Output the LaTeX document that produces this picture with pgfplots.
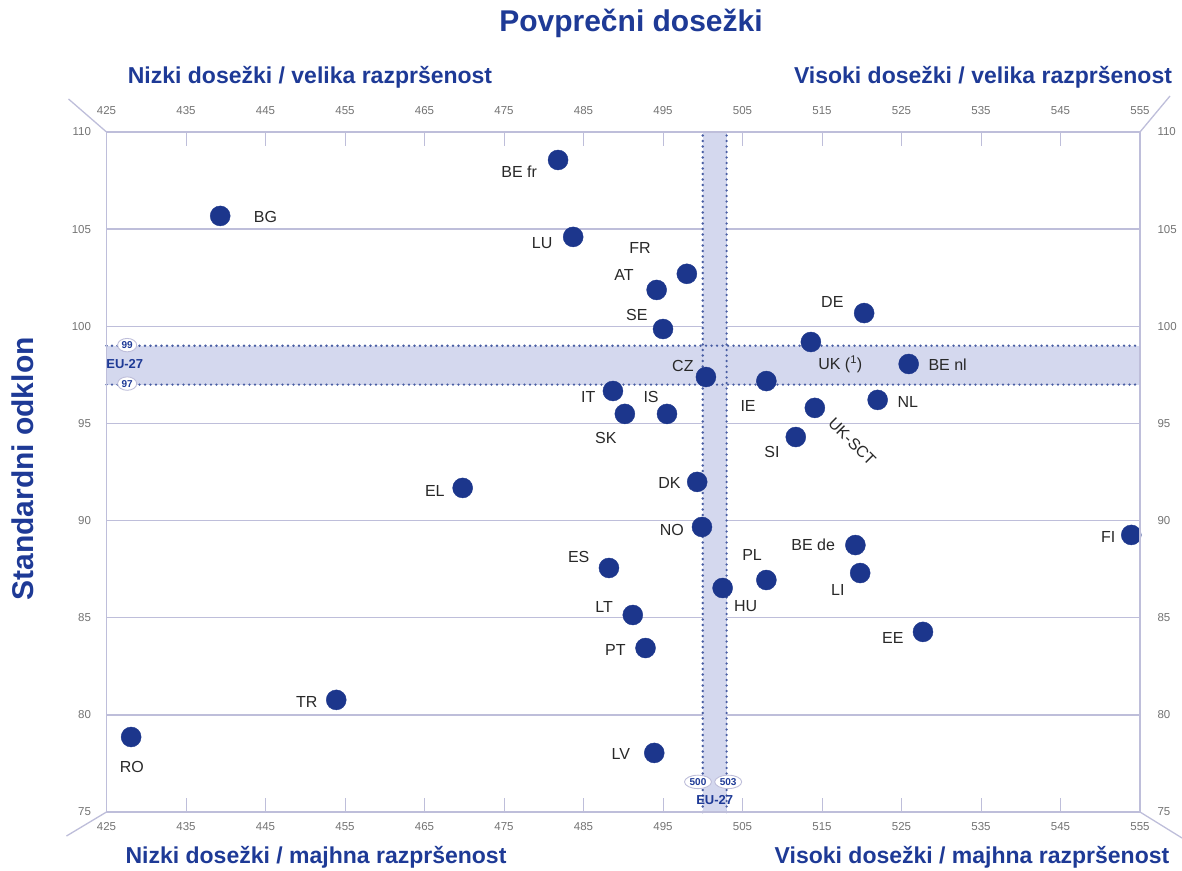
\documentclass[border=0pt]{standalone}
\usepackage{fontspec}
\setmainfont{Liberation Sans}
\usepackage{pgfplots}
\pgfplotsset{compat=1.18}
\usetikzlibrary{shapes.geometric}

\definecolor{titleblue}{RGB}{30,58,150}
\definecolor{dotblue}{RGB}{28,54,140}
\definecolor{bandfill}{RGB}{212,216,238}
\definecolor{axisgray}{RGB}{190,190,218}
\definecolor{labelgray}{RGB}{40,40,40}
\definecolor{tickgray}{RGB}{115,115,115}

\pgfplotsset{
  base/.style={
    width=1033.5pt, height=680pt, scale only axis,
    at={(106.5pt,58pt)}, anchor=south west,
    xmin=425, xmax=555, ymin=75, ymax=110,
    xtick={425,435,...,555}, ytick={75,80,...,110},
    axis line style={axisgray, line width=1.3pt},
    tick style={axisgray, line width=1pt},
    major tick length=14pt, tick align=inside,
    ytick style={draw=none},
    ticklabel style={font=\fontsize{11.5}{13}\selectfont, text=tickgray},
    /pgf/number format/assume math mode=true,
    /pgf/number format/1000 sep={},
  },
}
\tikzset{
  lbl/.style={font=\fontsize{16}{18}\selectfont, text=labelgray},
  oval/.style={ellipse, draw=axisgray, fill=white, inner sep=1.2pt, line width=0.9pt,
    font=\bfseries\fontsize{10}{11}\selectfont, text=titleblue},
  corner/.style={font=\bfseries\fontsize{23}{26}\selectfont, text=titleblue},
}

\pgfplotstableread{
x     y
481.8 108.56
439.3 105.68
483.7 104.60
498.0 102.70
494.2 101.87
495.0 99.86
520.3 100.68
513.6 99.19
525.9 98.06
500.4 97.39
508.0 97.18
488.7 96.67
522.0 96.21
495.5 95.49
490.2 95.49
514.1 95.80
511.7 94.30
469.8 91.68
499.3 91.99
499.9 89.67
553.9 89.26
519.2 88.74
519.8 87.30
488.2 87.56
508.0 86.94
502.5 86.53
491.2 85.14
527.7 84.27
492.8 83.44
453.9 80.77
428.1 78.86
493.9 78.04
}\scores

\begin{document}
\begin{tikzpicture}
\path[use as bounding box] (0,0) rectangle (1182pt,870pt);

\begin{axis}[base, clip=false,
    xticklabel pos=lower, yticklabel pos=left,
    ymajorgrids, grid style={axisgray, line width=1.3pt},
    xticklabel style={yshift=-7pt},
    yticklabel style={xshift=-12pt}]
  % EU-27 bands
  \fill[bandfill] (axis cs:425,97) rectangle (axis cs:555,99);
  \fill[bandfill] (axis cs:500,75) rectangle (axis cs:503,110);
  \begin{scope}[dotblue!80, line width=2.6pt, line cap=round, dash pattern=on 0pt off 5.5pt]
    \draw (axis cs:425,97) -- (axis cs:555,97);
    \draw (axis cs:425,99) -- (axis cs:555,99);
    \draw (axis cs:500,75) -- (axis cs:500,110);
    \draw (axis cs:503,75) -- (axis cs:503,110);
  \end{scope}
  \node[oval] at (axis cs:427.6,99.03) {99};
  \node[oval] at (axis cs:427.6,97.05) {97};
  \node[font=\bfseries\fontsize{13}{14}\selectfont, text=titleblue] at (axis cs:427.3,98.05) {EU-27};
  \node[oval] at (axis cs:499.4,76.55) {500};
  \node[oval] at (axis cs:503.2,76.55) {503};
  \node[font=\bfseries\fontsize{13}{14}\selectfont, text=titleblue] at (axis cs:501.5,75.63) {EU-27};

  \addplot[only marks, mark=*, mark size=10pt, color=dotblue] table {\scores};

  \node[lbl] at (axis cs:476.9,107.94) {BE fr};
  \node[lbl] at (axis cs:445.0,105.63) {BG};
  \node[lbl] at (axis cs:479.8,104.29) {LU};
  \node[lbl] at (axis cs:492.1,104.03) {FR};
  \node[lbl] at (axis cs:490.1,102.64) {AT};
  \node[lbl] at (axis cs:491.7,100.58) {SE};
  \node[lbl] at (axis cs:516.3,101.25) {DE};
  \node[lbl] at (axis cs:517.3,98.06) {UK (\textsuperscript{1})};
  \node[lbl] at (axis cs:530.8,98.01) {BE nl};
  \node[lbl] at (axis cs:497.5,97.96) {CZ};
  \node[lbl] at (axis cs:505.7,95.90) {IE};
  \node[lbl] at (axis cs:485.6,96.36) {IT};
  \node[lbl] at (axis cs:525.8,96.10) {NL};
  \node[lbl] at (axis cs:493.5,96.36) {IS};
  \node[lbl] at (axis cs:487.8,94.25) {SK};
  \node[lbl, rotate=-45, inner sep=0pt] at (axis cs:518.8,94.05) {UK-SCT};
  \node[lbl] at (axis cs:508.7,93.53) {SI};
  \node[lbl] at (axis cs:466.3,91.52) {EL};
  \node[lbl] at (axis cs:495.8,91.93) {DK};
  \node[lbl] at (axis cs:496.1,89.52) {NO};
  \node[lbl] at (axis cs:551.0,89.16) {FI};
  \node[lbl] at (axis cs:513.9,88.74) {BE de};
  \node[lbl] at (axis cs:517.0,86.43) {LI};
  \node[lbl] at (axis cs:484.4,88.13) {ES};
  \node[lbl] at (axis cs:506.2,88.23) {PL};
  \node[lbl] at (axis cs:505.4,85.60) {HU};
  \node[lbl] at (axis cs:487.6,85.55) {LT};
  \node[lbl] at (axis cs:523.9,83.96) {EE};
  \node[lbl] at (axis cs:489.0,83.34) {PT};
  \node[lbl] at (axis cs:450.2,80.66) {TR};
  \node[lbl] at (axis cs:428.2,77.32) {RO};
  \node[lbl] at (axis cs:489.7,77.99) {LV};

  % corner diagonals
  \draw[axisgray, line width=1.3pt] (rel axis cs:0,1) -- ++(-38pt,33pt);
  \draw[axisgray, line width=1.3pt] (rel axis cs:1,1) -- ++(30pt,36pt);
  \draw[axisgray, line width=1.3pt] (rel axis cs:0,0) -- ++(-40pt,-24pt);
  \draw[axisgray, line width=1.3pt] (rel axis cs:1,0) -- ++(42pt,-26pt);
\end{axis}

\begin{axis}[base,
    xticklabel pos=upper, yticklabel pos=right,
    xticklabel style={yshift=14pt},
    yticklabel style={xshift=14pt}]
  \addplot[draw=none] coordinates {(425,75)};
\end{axis}

\node[font=\bfseries\fontsize{30}{32}\selectfont, text=titleblue] at (631pt,847pt) {Povprečni dosežki};
\node[font=\bfseries\fontsize{30}{32}\selectfont, text=titleblue, rotate=90] at (23pt,401pt) {Standardni odklon};
\node[corner] at (310pt,793pt) {Nizki dosežki / velika razpršenost};
\node[corner] at (983pt,793pt) {Visoki dosežki / velika razpršenost};
\node[corner] at (316pt,13pt) {Nizki dosežki / majhna razpršenost};
\node[corner] at (972pt,13pt) {Visoki dosežki / majhna razpršenost};
\end{tikzpicture}
\end{document}
